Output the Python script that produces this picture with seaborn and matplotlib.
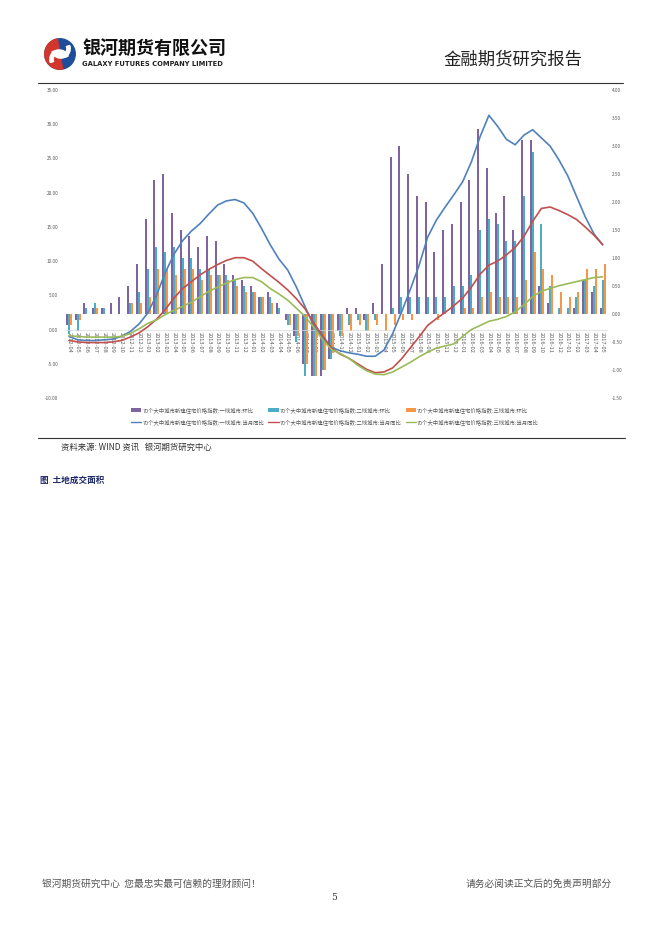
import numpy as np
import pandas as pd
import seaborn as sns
import matplotlib.pyplot as plt
from matplotlib.patches import Patch, Wedge, Circle
from matplotlib.lines import Line2D
from matplotlib.ticker import FormatStrFormatter

# 月份 2012-04 ~ 2017-05
months = list(pd.period_range('2012-04', '2017-05', freq='M').strftime('%Y-%m'))

# 环比 (右轴, 柱)
tier1_mom = [-0.2, -0.1, 0.2, 0.1, 0.1, 0.2, 0.3, 0.5, 0.9, 1.7,
             2.4, 2.5, 1.8, 1.5, 1.4, 1.2, 1.4, 1.3, 0.9, 0.7,
             0.6, 0.5, 0.3, 0.4, 0.2, -0.1, -0.4, -0.9, -1.1, -1.1,
             -0.8, -0.3, 0.1, 0.1, -0.1, 0.2, 0.9, 2.8, 3.0, 2.5,
             2.1, 2.0, 1.1, 1.5, 1.6, 2.0, 2.4, 3.3, 2.6, 1.8,
             2.1, 1.5, 3.1, 3.1, 0.5, 0.2, 0.0, 0.0, 0.1, 0.6,
             0.4, 0.1]
tier2_mom = [-0.35, -0.3, 0.1, 0.2, 0.1, 0.0, 0.0, 0.2, 0.4, 0.8,
             1.2, 1.1, 1.2, 1.0, 1.0, 0.8, 0.8, 0.7, 0.7, 0.6,
             0.5, 0.4, 0.3, 0.3, 0.1, -0.2, -0.5, -1.1, -1.1, -1.0,
             -0.8, -0.4, -0.2, -0.1, -0.3, -0.1, 0.0, 0.1, 0.3, 0.3,
             0.3, 0.3, 0.3, 0.3, 0.5, 0.5, 0.7, 1.5, 1.7, 1.6,
             1.3, 1.3, 2.1, 2.9, 1.6, 0.5, 0.1, 0.1, 0.3, 0.6,
             0.5, 0.6]
tier3_mom = [-0.2, -0.1, 0.0, 0.1, 0.0, 0.0, 0.0, 0.2, 0.2, 0.3,
             0.8, 0.8, 0.7, 0.8, 0.8, 0.6, 0.7, 0.7, 0.6, 0.5,
             0.4, 0.4, 0.3, 0.2, 0.0, -0.2, -0.4, -0.9, -1.1, -1.0,
             -0.7, -0.4, -0.3, -0.2, -0.3, -0.2, -0.3, -0.2, -0.1, -0.1,
             0.0, 0.0, -0.1, 0.0, 0.0, 0.1, 0.1, 0.3, 0.4, 0.3,
             0.3, 0.3, 0.6, 1.1, 0.8, 0.7, 0.4, 0.3, 0.4, 0.8,
             0.8, 0.9]

# 当月同比 (左轴, 线)
tier1_yoy = [-1.0, -1.5, -1.6, -1.6, -1.5, -1.4, -1.0, -0.3, 0.8, 2.4,
             5.0, 8.3, 11.0, 13.0, 14.4, 15.5, 16.9, 18.2, 18.8, 19.0,
             18.5, 17.0, 14.8, 12.4, 10.3, 8.7, 6.2, 3.3, 0.5, -1.2,
             -2.6, -3.1, -3.4, -3.6, -3.9, -3.9, -3.0, -0.6, 2.5, 5.8,
             9.3, 13.5, 16.0, 17.9, 19.7, 21.6, 24.5, 28.2, 31.3, 29.7,
             27.8, 27.0, 28.4, 29.2, 28.0, 26.8, 24.8, 22.5, 19.5, 16.5,
             14.0, 12.4]
tier2_yoy = [-1.6, -1.8, -1.9, -1.9, -1.9, -1.8, -1.6, -1.1, -0.5, 0.4,
             1.5, 2.9, 4.6, 6.0, 7.0, 8.0, 8.8, 9.5, 10.1, 10.5,
             10.5, 10.0, 8.9, 7.9, 6.9, 5.8, 4.5, 3.0, 0.9, -0.9,
             -2.7, -3.6, -4.2, -5.0, -5.8, -6.3, -6.2, -5.6, -4.3, -2.7,
             -1.1, 0.6, 1.6, 2.5, 3.5, 4.6, 6.2, 8.1, 9.4, 10.0,
             10.9, 12.0, 13.6, 15.8, 17.7, 17.9, 17.4, 16.8, 16.1, 15.0,
             13.8, 12.4]
tier3_yoy = [-0.9, -1.0, -1.1, -1.1, -1.1, -1.1, -1.0, -0.6, 0.1, 0.9,
             1.4, 2.2, 2.8, 3.4, 4.0, 4.8, 5.6, 6.2, 6.8, 7.3,
             7.6, 7.6, 7.0, 6.0, 5.2, 4.3, 3.1, 1.9, 0.3, -1.5,
             -2.9, -3.5, -4.2, -5.2, -6.0, -6.5, -6.6, -6.2, -5.5, -4.8,
             -4.0, -3.3, -2.7, -2.4, -2.1, -1.0, 0.0, 0.6, 1.2, 1.5,
             1.9, 2.6, 3.6, 4.8, 5.6, 6.0, 6.4, 6.7, 7.0, 7.3,
             7.6, 7.7]

bar_names = ['70个大中城市新建住宅价格指数:一线城市:环比',
             '70个大中城市新建住宅价格指数:二线城市:环比',
             '70个大中城市新建住宅价格指数:三线城市:环比']
line_names = ['70个大中城市新建住宅价格指数:一线城市:当月同比',
              '70个大中城市新建住宅价格指数:二线城市:当月同比',
              '70个大中城市新建住宅价格指数:三线城市:当月同比']
bar_colors = ['#8064A2', '#4BACC6', '#F79646']
line_colors = ['#4F81BD', '#C0504D', '#9BBB59']

bars = pd.concat([pd.DataFrame({'month': months, 'series': n, 'value': v})
                  for n, v in zip(bar_names, [tier1_mom, tier2_mom, tier3_mom])])
lines = pd.concat([pd.DataFrame({'pos': range(len(months)), 'series': n, 'value': v})
                   for n, v in zip(line_names, [tier1_yoy, tier2_yoy, tier3_yoy])])

sns.set_style('white')
plt.rcParams['font.family'] = ['Noto Sans CJK SC', 'DejaVu Sans']

W, H = 662, 936
fig = plt.figure(figsize=(W / 100, H / 100), dpi=100)

def fx(x):
    return x / W

def fy(y):
    return 1 - y / H

# 图表区域
left, right, top, bottom = 64.6, 607.0, 90, 398
ax = fig.add_axes([fx(left), fy(bottom), (right - left) / W, (bottom - top) / H])
ax2 = ax.twinx()

sns.barplot(data=bars, x='month', y='value', hue='series', order=months,
            hue_order=bar_names, palette=bar_colors, saturation=1,
            width=0.68, errorbar=None, legend=False, linewidth=0,
            edgecolor='none', ax=ax)
sns.lineplot(data=lines, x='pos', y='value', hue='series', hue_order=line_names,
             palette=line_colors, linewidth=1.2, legend=False, ax=ax2)

tick_color = '#595959'
ax.set_xlim(-0.5, len(months) - 0.5)
ax.set_ylim(-1.5, 4.0)
ax.set_yticks(np.arange(-1.5, 4.01, 0.5))
ax.yaxis.set_major_formatter(FormatStrFormatter('%.2f'))
ax.yaxis.tick_right()
ax.tick_params(axis='y', length=0, pad=3.5, labelsize=3.4, labelcolor=tick_color)
ax.set_xticks(range(len(months)), labels=months)
ax.tick_params(axis='x', length=0, pad=1.5, labelsize=4.1, labelrotation=-90,
               labelcolor=tick_color)
ax.set_xlabel('')
ax.set_ylabel('')
for s in ['top', 'left', 'right']:
    ax.spines[s].set_visible(False)
ax.spines['bottom'].set_position(('axes', 10 / 45))
ax.spines['bottom'].set_color('#d9d9d9')
ax.spines['bottom'].set_linewidth(0.5)

ax2.set_ylim(-10, 35)
ax2.set_yticks(np.arange(-10, 35.1, 5))
ax2.yaxis.set_major_formatter(FormatStrFormatter('%.2f'))
ax2.yaxis.tick_left()
ax2.tick_params(axis='y', length=0, pad=4.5, labelsize=3.4, labelcolor=tick_color)
ax2.set_xlabel('')
ax2.set_ylabel('')
for s in ax2.spines.values():
    s.set_visible(False)

# 图例
handles = []
labels = []
for i in range(3):
    handles.append(Patch(facecolor=bar_colors[i], edgecolor='none'))
    labels.append(bar_names[i])
    handles.append(Line2D([], [], color=line_colors[i], lw=1.0))
    labels.append(line_names[i])
fig.legend(handles, labels, ncol=3, loc='center', bbox_to_anchor=(fx(335), fy(416)),
           frameon=False, fontsize=3.9, labelcolor=tick_color, handlelength=1.9,
           handleheight=0.6, handletextpad=0.25, columnspacing=0.7, labelspacing=1.1)

# 页面元素
fig.add_artist(Line2D([fx(38), fx(623)], [fy(83), fy(83)], color='#333333', lw=0.8))
fig.add_artist(Line2D([fx(38), fx(625)], [fy(438), fy(438)], color='#333333', lw=0.8))

fig.text(fx(61), fy(447), '资料来源: WIND 资讯   银河期货研究中心', fontsize=6,
         color='#333333', va='center')
fig.text(fx(40), fy(480), '图  土地成交面积', fontsize=6.2, weight='bold',
         color='#1F2A6B', va='center')

# 页眉
logo = fig.add_axes([fx(44), fy(70), 32 / W, 32 / H])
logo.set_xlim(-1.05, 1.05)
logo.set_ylim(-1.05, 1.05)
logo.set_aspect('equal')
logo.axis('off')
logo.add_patch(Circle((0, 0), 1.0, color='#1E4E9A'))
logo.add_patch(Wedge((0, 0), 1.0, 100, 280, color='#D2352B'))
logo.add_patch(Wedge((0.05, 0.35), 0.62, 200, 20, width=0.22, color='white'))
logo.add_patch(Wedge((-0.05, -0.35), 0.62, 20, 200, width=0.22, color='white'))

fig.text(fx(82), fy(48), '银河期货有限公司', fontsize=13, weight='bold',
         color='#111111', va='center')
fig.text(fx(82), fy(63.5), 'GALAXY FUTURES COMPANY LIMITED', fontsize=4.9,
         weight='bold', color='#222222', va='center', family='DejaVu Sans')
fig.text(fx(582), fy(60), '金融期货研究报告', fontsize=12.5, color='#222222',
         ha='right', va='center')

# 页脚
fig.text(fx(42), fy(884), '银河期货研究中心  您最忠实最可信赖的理财顾问！', fontsize=7,
         color='#555555', va='center')
fig.text(fx(612), fy(884), '请务必阅读正文后的免责声明部分', fontsize=7,
         color='#555555', ha='right', va='center')
fig.text(fx(334), fy(897), '5', fontsize=6.5, color='#333333', ha='center',
         va='center', family='DejaVu Serif')

fig.savefig('out.png', dpi=100)
